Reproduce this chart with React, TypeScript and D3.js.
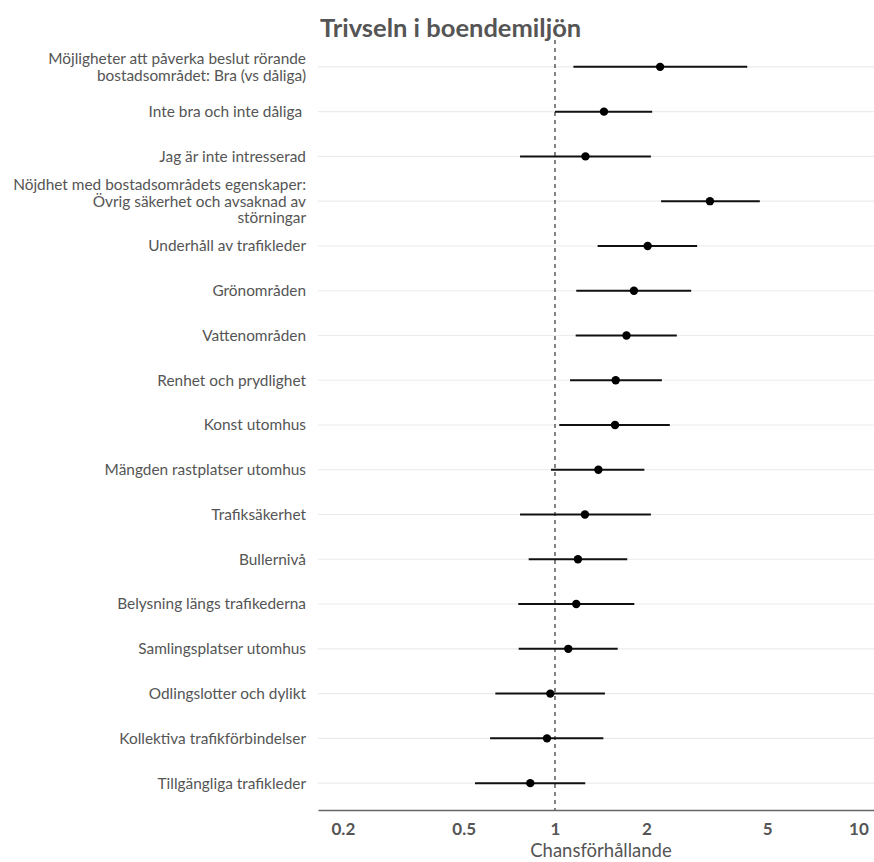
import React, { useRef, useEffect } from 'react';
import * as d3 from 'd3';

// Odds ratios with 95% CI, top to bottom as in the figure
const labels: string[][] = [
  ['Möjligheter att påverka beslut rörande', 'bostadsområdet: Bra (vs dåliga)'],
  ['Inte bra och inte dåliga '],
  ['Jag är inte intresserad'],
  ['Nöjdhet med bostadsområdets egenskaper:', 'Övrig säkerhet och avsaknad av', 'störningar'],
  ['Underhåll av trafikleder'],
  ['Grönområden'],
  ['Vattenområden'],
  ['Renhet och prydlighet'],
  ['Konst utomhus'],
  ['Mängden rastplatser utomhus'],
  ['Trafiksäkerhet'],
  ['Bullernivå'],
  ['Belysning längs trafikederna'],
  ['Samlingsplatser utomhus'],
  ['Odlingslotter och dylikt'],
  ['Kollektiva trafikförbindelser'],
  ['Tillgängliga trafikleder'],
];
const estimates = [2.22, 1.45, 1.26, 3.24, 2.02, 1.82, 1.72, 1.585, 1.577, 1.39, 1.255, 1.19, 1.175, 1.106, 0.965, 0.941, 0.829];
const ciLow = [1.15, 1.0, 0.767, 2.236, 1.382, 1.175, 1.17, 1.121, 1.033, 0.97, 0.767, 0.819, 0.757, 0.759, 0.636, 0.611, 0.545];
const ciHigh = [4.3, 2.09, 2.07, 4.73, 2.94, 2.81, 2.52, 2.25, 2.39, 1.97, 2.07, 1.73, 1.825, 1.609, 1.461, 1.443, 1.258];
const tickValues = [0.2, 0.5, 1, 2, 5, 10];

const title = 'Trivseln i boendemiljön';
const xLabel = 'Chansförhållande';

function ForestPlot() {
  const svgRef = useRef<SVGSVGElement>(null);

  useEffect(() => {
    const svg = d3.select(svgRef.current);
    svg.selectAll('*').remove();

    const width = 874;
    const height = 862;
    const font = 'Lato, "Noto Sans", sans-serif';
    const textColor = '#555555';
    const plot = { left: 318, right: 874, top: 40, bottom: 810 };

    svg.attr('width', width).attr('height', height);

    const x = d3.scaleLog()
      .domain([0.1656, 11.25])
      .range([plot.left, plot.right]);

    const ids = labels.map((_, i) => String(i));
    const y = d3.scalePoint<string>()
      .domain(ids)
      .range([plot.top, plot.bottom])
      .padding(0.6);

    // grid lines
    svg.append('g')
      .selectAll('line')
      .data(ids)
      .join('line')
      .attr('x1', plot.left)
      .attr('x2', plot.right)
      .attr('y1', d => y(d)!)
      .attr('y2', d => y(d)!)
      .attr('stroke', '#ebebeb')
      .attr('stroke-width', 1.1);

    // reference line at 1
    svg.append('line')
      .attr('x1', x(1))
      .attr('x2', x(1))
      .attr('y1', plot.top)
      .attr('y2', plot.bottom)
      .attr('stroke', '#333333')
      .attr('stroke-width', 1.2)
      .attr('stroke-dasharray', '4,4');

    // confidence intervals
    svg.append('g')
      .selectAll('line')
      .data(ids)
      .join('line')
      .attr('x1', (_, i) => x(ciLow[i]))
      .attr('x2', (_, i) => x(ciHigh[i]))
      .attr('y1', d => y(d)!)
      .attr('y2', d => y(d)!)
      .attr('stroke', '#111111')
      .attr('stroke-width', 2);

    // point estimates
    svg.append('g')
      .selectAll('circle')
      .data(ids)
      .join('circle')
      .attr('cx', (_, i) => x(estimates[i]))
      .attr('cy', d => y(d)!)
      .attr('r', 4.2)
      .attr('fill', '#000000');

    // y labels
    const lineH = 16.7;
    const yLabels = svg.append('g')
      .attr('font-family', font)
      .attr('font-size', 15.4)
      .attr('fill', textColor)
      .attr('text-anchor', 'end');
    labels.forEach((lines, i) => {
      const cy = y(String(i))!;
      const t = yLabels.append('text')
        .attr('x', 306)
        .attr('y', cy - ((lines.length - 1) * lineH) / 2)
        .style('white-space', 'pre');
      lines.forEach((ln, j) => {
        t.append('tspan')
          .attr('x', 306)
          .attr('dy', j === 0 ? '0.35em' : lineH)
          .text(ln);
      });
    });

    // x axis
    const xAxis = svg.append('g')
      .attr('transform', `translate(0, ${plot.bottom})`)
      .call(
        d3.axisBottom(x)
          .tickValues(tickValues)
          .tickFormat(d => String(d))
          .tickSize(0)
          .tickPadding(13)
      );
    xAxis.select('.domain')
      .attr('stroke', '#666666')
      .attr('stroke-width', 1.6);
    xAxis.selectAll('text')
      .attr('font-family', font)
      .attr('font-size', 17)
      .attr('font-weight', 'bold')
      .attr('fill', textColor);

    svg.append('text')
      .attr('x', (plot.left + plot.right) / 2 + 5)
      .attr('y', 857)
      .attr('text-anchor', 'middle')
      .attr('font-family', font)
      .attr('font-size', 18.5)
      .attr('fill', textColor)
      .text(xLabel);

    svg.append('text')
      .attr('x', 320)
      .attr('y', 37)
      .attr('font-family', font)
      .attr('font-size', 25.5)
      .attr('font-weight', 'bold')
      .attr('fill', textColor)
      .text(title);
  }, []);

  return <svg ref={svgRef} style={{ position: 'absolute', left: 0, top: 0 }}></svg>;
}

export default function App() {
  return <ForestPlot />;
}
